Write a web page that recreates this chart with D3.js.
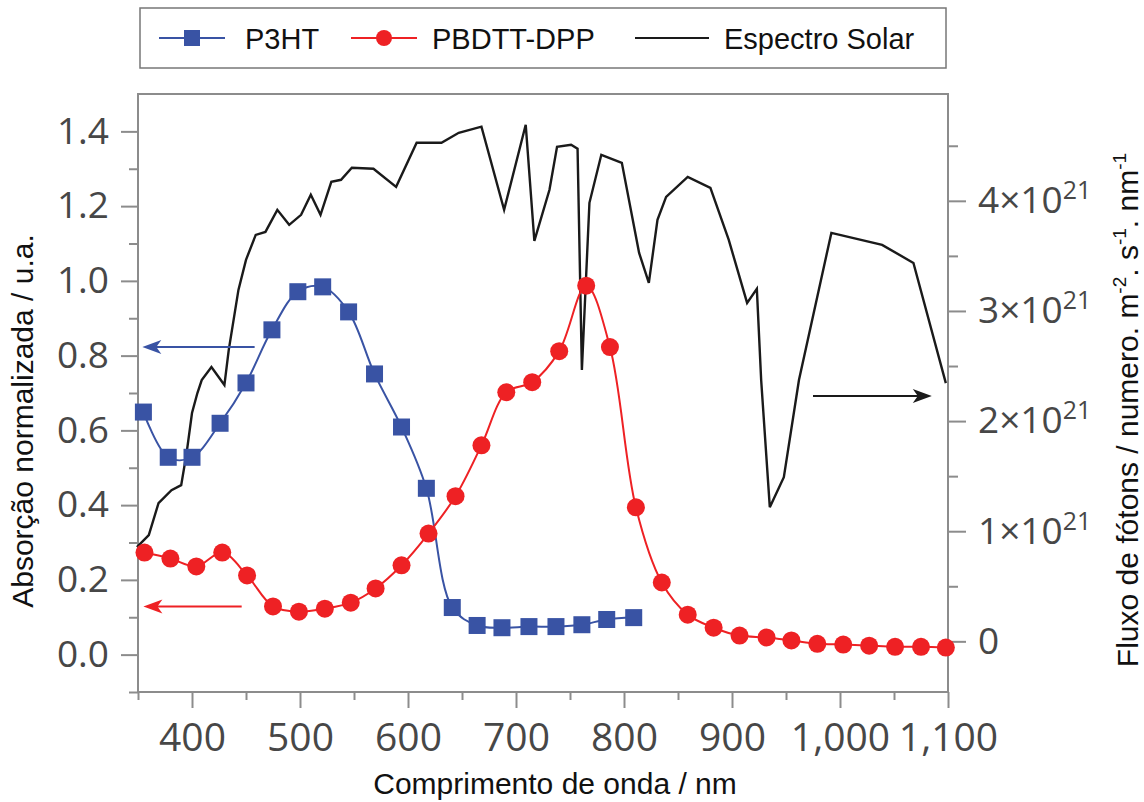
<!doctype html>
<html lang="pt">
<head>
<meta charset="utf-8">
<title>Absorção P3HT / PBDTT-DPP e espectro solar</title>
<script src="https://d3js.org/d3.v7.min.js"></script>
<style>
  body { margin: 0; background: #fff; }
  svg { display: block; }
  .tick-label text { font-family: 'Open Sans', sans-serif; fill: #474747; }
  .axis .domain { display: none; }
  .axis line { stroke: #8c8c8c; stroke-width: 2; }
  text.title { font-family: 'Liberation Sans', Arial, sans-serif; font-size: 30px; fill: #111; }
  text.legend { font-family: 'Liberation Sans', Arial, sans-serif; font-size: 29px; fill: #111; }
</style>
</head>
<body>
<svg width="1144" height="802"></svg>
<script>
// P3HT absorption (markers)
const p3htNm  = [355, 378, 400, 426, 450, 474, 498, 521, 545, 569, 594, 617, 641, 664, 687, 712, 737, 761, 784, 809];
const p3htAbs = [0.649, 0.528, 0.528, 0.619, 0.727, 0.869, 0.971, 0.984, 0.917, 0.751, 0.609, 0.445, 0.126, 0.078, 0.072, 0.075, 0.075, 0.080, 0.094, 0.099];

// PBDTT-DPP absorption (markers)
const dppNm  = [356, 380, 404, 428, 451, 475, 499, 523, 547, 570, 594, 619, 644, 668, 691, 715, 740, 765, 787, 811, 835, 859, 883, 907, 932, 955, 979, 1003, 1027, 1051, 1075, 1098];
const dppAbs = [0.273, 0.257, 0.236, 0.273, 0.212, 0.129, 0.115, 0.123, 0.139, 0.177, 0.239, 0.324, 0.424, 0.560, 0.702, 0.729, 0.812, 0.987, 0.823, 0.394, 0.193, 0.107, 0.072, 0.051, 0.046, 0.038, 0.029, 0.027, 0.024, 0.021, 0.021, 0.019];

// solar photon flux, units of 1e21
const solarNm   = [349, 360, 369, 381, 390, 395, 400, 405, 409, 418, 430, 434, 443, 450, 459, 468, 479, 490, 501, 510, 519, 529, 538, 548, 568, 589, 608, 631, 647, 668, 689, 709, 717, 731, 738, 751, 757, 761, 768, 779, 798, 814, 823, 831, 839, 859, 880, 897, 914, 923, 927, 935, 948, 962, 992, 1039, 1068, 1098];
const solarFlux = [0.855, 0.964, 1.255, 1.373, 1.418, 1.709, 2.073, 2.255, 2.373, 2.491, 2.327, 2.645, 3.191, 3.464, 3.691, 3.718, 3.918, 3.782, 3.873, 4.055, 3.873, 4.173, 4.191, 4.3, 4.291, 4.127, 4.527, 4.527, 4.618, 4.673, 3.918, 4.691, 3.636, 4.1, 4.491, 4.509, 4.473, 2.464, 3.982, 4.418, 4.345, 3.527, 3.255, 3.827, 4.036, 4.218, 4.118, 3.645, 3.073, 3.2, 2.373, 1.218, 1.491, 2.373, 3.709, 3.6, 3.436, 2.345];

const xTicks = [400, 500, 600, 700, 800, 900, 1000, 1100];
const xMinor = [350, 450, 550, 650, 750, 850, 950, 1050];
const yLeftTicks = [0, 0.2, 0.4, 0.6, 0.8, 1.0, 1.2, 1.4];
const yLeftMinor = [-0.1, 0.1, 0.3, 0.5, 0.7, 0.9, 1.1, 1.3];
const yRightTicks = [0, 1, 2, 3, 4];
const yRightMinor = [0.5, 1.5, 2.5, 3.5, 4.5];

const blue = '#3953a4', red = '#ee2124', black = '#1a1a1a';

const svg = d3.select('svg');
const plotLeft = 138, plotRight = 948, plotTop = 94, plotBottom = 692;

const x = d3.scaleLinear().domain([350, 1100]).range([plotLeft, plotRight]);
const yL = d3.scaleLinear().domain([-0.1, 1.5]).range([plotBottom, plotTop]);
const yR = d3.scaleLinear().domain([-0.46, 4.97]).range([plotBottom, plotTop]);

// axes
svg.append('g').attr('class', 'axis').attr('transform', `translate(${plotLeft},0)`)
  .call(d3.axisLeft(yL).tickValues(yLeftMinor).tickSize(9).tickFormat(''));
svg.append('g').attr('class', 'axis tick-label').attr('transform', `translate(${plotLeft},0)`)
  .call(d3.axisLeft(yL).tickValues(yLeftTicks).tickSize(17).tickPadding(12).tickFormat(d3.format('.1f')))
  .selectAll('text').attr('font-size', 37).attr('font-family', null);

svg.append('g').attr('class', 'axis').attr('transform', `translate(0,${plotBottom})`)
  .call(d3.axisBottom(x).tickValues(xMinor).tickSize(8).tickFormat(''));
svg.append('g').attr('class', 'axis tick-label').attr('transform', `translate(0,${plotBottom})`)
  .call(d3.axisBottom(x).tickValues(xTicks).tickSize(16).tickPadding(15).tickFormat(d3.format(',')))
  .selectAll('text').attr('font-size', 39).attr('font-family', null);

svg.append('g').attr('class', 'axis').attr('transform', `translate(${plotRight},0)`)
  .call(d3.axisRight(yR).tickValues(yRightMinor).tickSize(10).tickFormat(''));
const rAxis = svg.append('g').attr('class', 'axis tick-label').attr('transform', `translate(${plotRight},0)`)
  .call(d3.axisRight(yR).tickValues(yRightTicks).tickSize(18).tickPadding(12));
rAxis.selectAll('text').attr('font-size', 37).attr('font-family', null)
  .each(function (d) {
    const t = d3.select(this).text('');
    if (d === 0) { t.text('0'); return; }
    t.append('tspan').text(d + '×10');
    t.append('tspan').attr('font-size', 25).attr('dy', -14).text('21');
  });

// frame
svg.append('rect')
  .attr('x', plotLeft).attr('y', plotTop).attr('width', plotRight - plotLeft).attr('height', plotBottom - plotTop)
  .attr('fill', 'none').attr('stroke', '#8c8c8c').attr('stroke-width', 2);

// solar spectrum
const solar = solarNm.map((d, i) => [d, solarFlux[i]]);
svg.append('path')
  .datum(solar)
  .attr('fill', 'none').attr('stroke', black).attr('stroke-width', 2.4).attr('stroke-linejoin', 'miter')
  .attr('d', d3.line().x(d => x(d[0])).y(d => yR(d[1])));

// P3HT
const p3ht = p3htNm.map((d, i) => [d, p3htAbs[i]]);
svg.append('path')
  .datum(p3ht)
  .attr('fill', 'none').attr('stroke', blue).attr('stroke-width', 2)
  .attr('d', d3.line().curve(d3.curveCatmullRom.alpha(0.5)).x(d => x(d[0])).y(d => yL(d[1])));
svg.append('g').selectAll('rect').data(p3ht).join('rect')
  .attr('x', d => x(d[0]) - 8.5).attr('y', d => yL(d[1]) - 8.5)
  .attr('width', 17).attr('height', 17).attr('fill', blue);

// PBDTT-DPP
const dpp = dppNm.map((d, i) => [d, dppAbs[i]]);
svg.append('path')
  .datum(dpp)
  .attr('fill', 'none').attr('stroke', red).attr('stroke-width', 2)
  .attr('d', d3.line().curve(d3.curveCatmullRom.alpha(0.5)).x(d => x(d[0])).y(d => yL(d[1])));
svg.append('g').selectAll('circle').data(dpp).join('circle')
  .attr('cx', d => x(d[0])).attr('cy', d => yL(d[1])).attr('r', 9).attr('fill', red);

// arrows pointing at the axis each curve belongs to
function arrow(x1, x2, y, color) {
  const dir = x2 > x1 ? 1 : -1;
  svg.append('line').attr('x1', x1).attr('x2', x2 - dir * 8).attr('y1', y).attr('y2', y)
    .attr('stroke', color).attr('stroke-width', 2);
  svg.append('path')
    .attr('d', `M${x2},${y} L${x2 - dir * 19},${y - 7} L${x2 - dir * 14},${y} L${x2 - dir * 19},${y + 7} Z`)
    .attr('fill', color);
}
arrow(x(458), x(354), yL(0.823), blue);
arrow(x(446), x(355), yL(0.129), red);
arrow(x(975), x(1085), yR(2.227), black);

// axis titles
svg.append('text').attr('class', 'title')
  .attr('x', 555).attr('y', 794).attr('text-anchor', 'middle')
  .text('Comprimento de onda / nm');

svg.append('text').attr('class', 'title')
  .attr('transform', 'translate(33,421) rotate(-90)').attr('text-anchor', 'middle')
  .text('Absorção normalizada / u.a.');

const rt = svg.append('text').attr('class', 'title')
  .attr('transform', 'translate(1138,410) rotate(-90)').attr('text-anchor', 'middle');
rt.append('tspan').text('Fluxo de fótons / numero. m');
rt.append('tspan').attr('font-size', 19).attr('dy', -12).text('-2');
rt.append('tspan').attr('dy', 12).text('. s');
rt.append('tspan').attr('font-size', 19).attr('dy', -12).text('-1');
rt.append('tspan').attr('dy', 12).text('. nm');
rt.append('tspan').attr('font-size', 19).attr('dy', -12).text('-1');

// legend
const legendY = 38;
svg.append('rect').attr('x', 140).attr('y', 8).attr('width', 806).attr('height', 60)
  .attr('fill', '#fff').attr('stroke', '#777').attr('stroke-width', 1.5);

svg.append('line').attr('x1', 159).attr('x2', 225).attr('y1', legendY).attr('y2', legendY)
  .attr('stroke', blue).attr('stroke-width', 2);
svg.append('rect').attr('x', 184).attr('y', legendY - 8).attr('width', 16).attr('height', 16).attr('fill', blue);
svg.append('text').attr('class', 'legend').attr('x', 245).attr('y', legendY + 11).text('P3HT');

svg.append('line').attr('x1', 351).attr('x2', 417).attr('y1', legendY).attr('y2', legendY)
  .attr('stroke', red).attr('stroke-width', 2);
svg.append('circle').attr('cx', 384).attr('cy', legendY).attr('r', 8).attr('fill', red);
svg.append('text').attr('class', 'legend').attr('x', 432).attr('y', legendY + 11).text('PBDTT-DPP');

svg.append('line').attr('x1', 635).attr('x2', 709).attr('y1', legendY).attr('y2', legendY)
  .attr('stroke', black).attr('stroke-width', 2);
svg.append('text').attr('class', 'legend').attr('x', 724).attr('y', legendY + 11).text('Espectro Solar');
</script>
</body>
</html>
